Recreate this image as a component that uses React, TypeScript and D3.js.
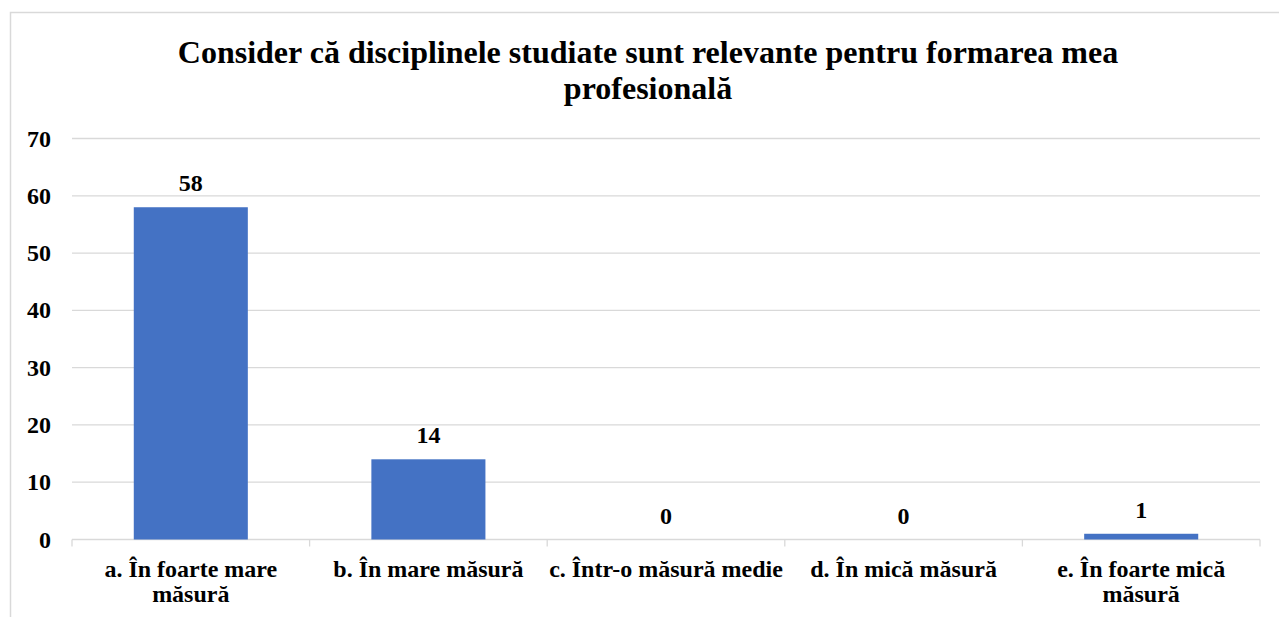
import React from "react";
import * as d3 from "d3";

const TITLE_LINES = ["Consider că disciplinele studiate sunt relevante pentru formarea mea", "profesională"];
const categories = [
  "a. În foarte mare măsură",
  "b. În mare măsură",
  "c. Într-o măsură medie",
  "d. În mică măsură",
  "e. În foarte mică măsură",
];
const values = [58, 14, 0, 0, 1];
const yTicks = [0, 10, 20, 30, 40, 50, 60, 70];

const W = 1279;
const H = 617;
const FONT = "'Liberation Serif', 'Times New Roman', serif";

function measure(text: string, size: number) {
  const c = document.createElement("canvas").getContext("2d")!;
  c.font = `bold ${size}px 'Liberation Serif', serif`;
  return c.measureText(text).width;
}

function wrap(text: string, width: number, size: number): string[] {
  const words = text.split(" ");
  const lines: string[] = [];
  let cur = "";
  for (const w of words) {
    const t = cur ? cur + " " + w : w;
    if (measure(t, size) > width && cur) {
      lines.push(cur);
      cur = w;
    } else cur = t;
  }
  if (cur) lines.push(cur);
  return lines;
}

export default function App() {
  const left = 72;
  const right = 1260;
  const top = 138.5;
  const bottom = 539.5;
  const x = d3.scaleBand<string>().domain(categories).range([left, right]).paddingInner(0.52).paddingOuter(0.26);
  const band = (right - left) / categories.length;
  const y = d3.scaleLinear().domain([0, 70]).range([bottom, top]);
  const xLabelSize = 24;

  return (
    <div style={{ position: "absolute", left: 0, top: 0 }}>
      <svg width={W} height={H} style={{ display: "block", background: "#fff" }}>
        <rect x={10.5} y={12.5} width={W + 20} height={H + 20} fill="#fff" stroke="#d9d9d9" strokeWidth={1.5} />
        <text textAnchor="middle" fontFamily={FONT} fontWeight="bold" fontSize={32} fill="#000">
          {TITLE_LINES.map((l, i) => (
            <tspan key={i} x={648} y={62.5 + i * 36}>{l}</tspan>
          ))}
        </text>
        {yTicks.map((t) => (
          <g key={t}>
            <line x1={left} x2={right} y1={y(t)} y2={y(t)} stroke="#d9d9d9" strokeWidth={1.3} />
            <text x={51} y={y(t) + 8} textAnchor="end" fontFamily={FONT} fontWeight="bold" fontSize={24} fill="#000">{t}</text>
          </g>
        ))}
        {d3.range(categories.length + 1).map((i) => (
          <line key={i} x1={left + i * band} x2={left + i * band} y1={bottom} y2={bottom + 7} stroke="#d9d9d9" strokeWidth={1.3} />
        ))}
        {categories.map((c, i) => (
          <g key={c}>
            <rect x={x(c)!} y={y(values[i])} width={x.bandwidth()} height={bottom - y(values[i])} fill="#4472c4" />
            <text x={x(c)! + x.bandwidth() / 2} y={y(values[i]) - 16} textAnchor="middle" fontFamily={FONT} fontWeight="bold" fontSize={24} fill="#000">{values[i]}</text>
            <text textAnchor="middle" fontFamily={FONT} fontWeight="bold" fontSize={xLabelSize} fill="#000">
              {wrap(c, band - 2, xLabelSize).map((l, j) => (
                <tspan key={j} x={left + i * band + band / 2} y={577 + j * 25}>{l}</tspan>
              ))}
            </text>
          </g>
        ))}
      </svg>
    </div>
  );
}
